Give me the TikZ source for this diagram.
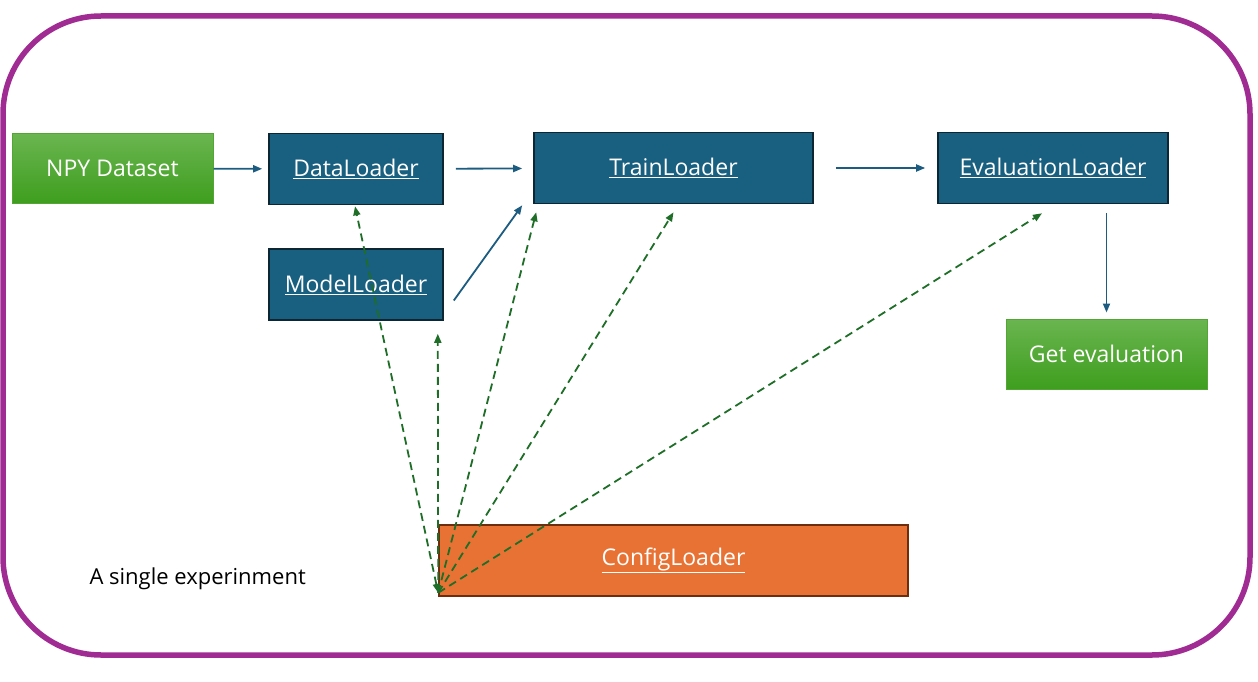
\documentclass[tikz,border=0pt]{standalone}
\usepackage{fontspec}
\setmainfont{Open Sans}
\usetikzlibrary{arrows.meta}

\definecolor{loaderblue}{RGB}{24,95,128}
\definecolor{loaderedge}{RGB}{12,38,52}
\definecolor{flowblue}{RGB}{28,92,128}
\definecolor{greentop}{RGB}{106,181,80}
\definecolor{greenbot}{RGB}{62,158,30}
\definecolor{greenedge}{RGB}{84,166,52}
\definecolor{cfgorange}{RGB}{232,114,52}
\definecolor{cfgedge}{RGB}{110,46,14}
\definecolor{cfgdash}{RGB}{30,110,40}
\definecolor{framepurple}{RGB}{160,43,147}

\begin{document}
\begin{tikzpicture}
		[x=1pt, y=-1pt,
		 loader/.style= {draw=loaderedge, line width=1.6pt, fill=loaderblue, text=white, inner sep=0pt, minimum height=71pt, font=\fontsize{23}{27}\selectfont},
		 endpoint/.style= {draw=greenedge, line width=1pt, top color=greentop, bottom color=greenbot, text=white, inner sep=0pt, minimum width=201pt, minimum height=70pt, font=\fontsize{23}{27}\selectfont},
		 flow/.style= {draw=flowblue, line width=1.8pt, -{Triangle[length=9pt,width=7pt]}},
		 cfg/.style= {draw=cfgdash, line width=1.8pt, dash pattern=on 8pt off 5pt, -{Triangle[length=9pt,width=7pt]}}]
		
		\useasboundingbox (0,0) rectangle (1258,682);
		\draw[draw=framepurple, line width=5.5pt, rounded corners=98pt] (3,16) rectangle (1250,655);
		
		\node[endpoint] (npy) at (112.5,168.5) {NPY Dataset};
		\node[loader, minimum width=174pt] (data) at (356,169) {\underline{DataLoader}};
		\node[loader, minimum width=174pt] (model) at (356,284.5) {\underline{ModelLoader}};
		\node[loader, minimum width=279pt] (train) at (673.5,168) {\underline{TrainLoader}};
		\node[loader, minimum width=230pt] (eval) at (1053,168) {\underline{EvaluationLoader}};
		\node[endpoint] (result) at (1106.5,354) {Get evaluation};
		\node[draw=cfgedge, line width=1.6pt, fill=cfgorange, text=white, inner sep=0pt, minimum width=469pt, minimum height=71pt, font=\fontsize{23}{27}\selectfont] (config) at (673.5,560.5) {\underline{ConfigLoader}};
		\node[anchor=west, font=\fontsize{22}{26}\selectfont] (label) at (86,579) {A single experinment};
		
		% main flow
		\draw[flow, shorten >=6pt] (npy) -- (data);
		\draw[flow, shorten <=12pt, shorten >=11pt] (data) -- (train);
		\draw[flow] ([shift={(10,16)}]model.east) -- ([shift={(-11,1)}]train.south west);
		\draw[flow, shorten <=22pt, shorten >=12pt] (train) -- (eval);
		\draw[flow, shorten <=9pt, shorten >=6pt] (eval.south -| result.north) -- (result.north);
		
		% config links
		\coordinate (hub) at ([shift={(0,-4)}]config.south west);
		\draw[cfg, {Triangle[length=9pt,width=7pt]}-{Triangle[length=9pt,width=7pt]}] (hub) -- ([shift={(-1,1)}]data.south);
		\draw[cfg] (hub) -- ([shift={(-6,13)}]model.south east);
		\draw[cfg] (hub) -- ([shift={(3,8)}]train.south west);
		\draw[cfg] (hub) -- ([shift={(0,8)}]train.south);
		\draw[cfg] (hub) -- ([shift={(-11,9)}]eval.south);
		
	\end{tikzpicture}
\end{document}
